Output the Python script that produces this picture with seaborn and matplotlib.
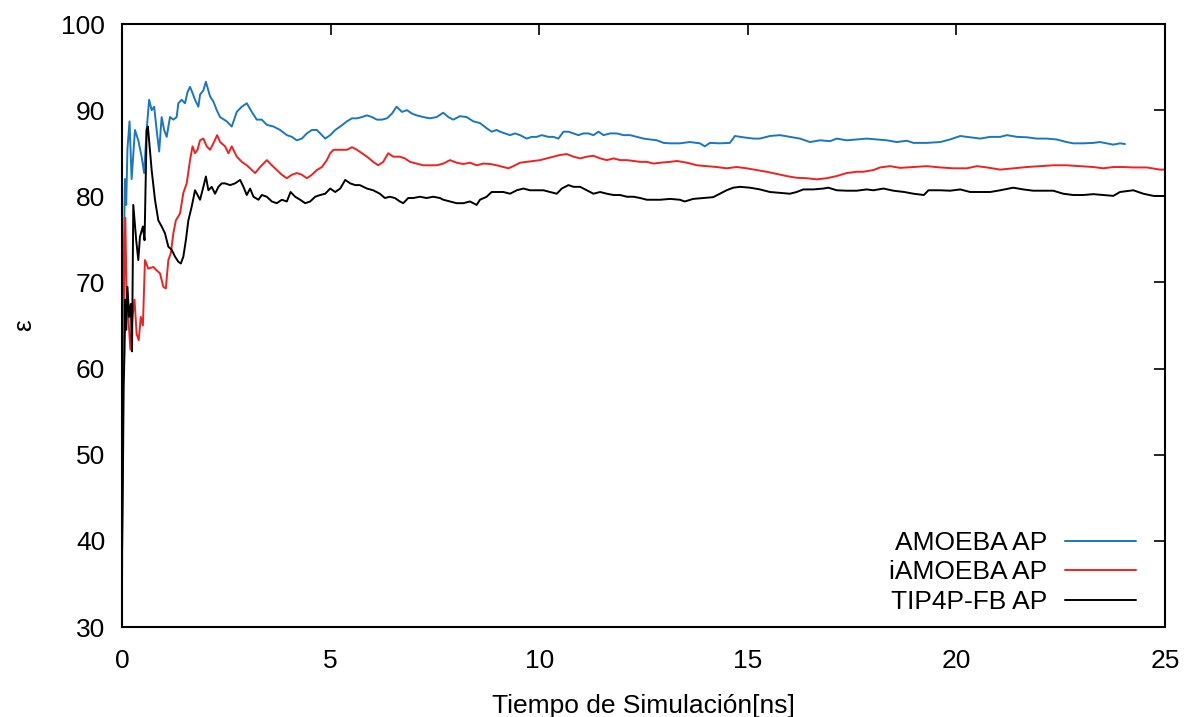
import numpy as np
import pandas as pd
import matplotlib
matplotlib.use("Agg")
import matplotlib.pyplot as plt
import seaborn as sns

# Dielectric constant (epsilon) vs simulation time for three water models
labels = ["AMOEBA AP", "iAMOEBA AP", "TIP4P-FB AP"]
colors = ["#1a77bd", "#ee2222", "#000000"]

t_amoeba = [0.0, 0.02, 0.04, 0.07, 0.10, 0.13, 0.18, 0.23, 0.31, 0.39, 0.47, 0.53, 0.59, 0.65, 0.71, 0.77,
            0.83, 0.89, 0.95, 1.01, 1.07, 1.15, 1.23, 1.31, 1.35, 1.43, 1.51, 1.57, 1.63, 1.69, 1.75, 1.83,
            1.87, 1.95, 2.01, 2.11, 2.19, 2.27, 2.35, 2.51, 2.63, 2.75, 2.87, 2.99, 3.11, 3.23, 3.35, 3.47,
            3.63, 3.79, 3.95, 4.07, 4.19, 4.31, 4.43, 4.55, 4.67, 4.75, 4.87, 4.99, 5.11, 5.23, 5.39, 5.51,
            5.63, 5.75, 5.87, 5.99, 6.11, 6.23, 6.35, 6.47, 6.58, 6.71, 6.83, 6.95, 7.06, 7.22, 7.38, 7.54,
            7.70, 7.82, 7.94, 8.10, 8.26, 8.42, 8.58, 8.74, 8.86, 8.98, 9.06, 9.18, 9.30, 9.42, 9.54, 9.70,
            9.82, 9.94, 10.06, 10.22, 10.34, 10.46, 10.58, 10.70, 10.82, 10.94, 11.06, 11.18, 11.30, 11.42,
            11.54, 11.70, 11.86, 12.02, 12.18, 12.34, 12.50, 12.66, 12.82, 12.98, 13.14, 13.37, 13.61, 13.85,
            13.97, 14.09, 14.33, 14.57, 14.69, 14.89, 15.13, 15.29, 15.53, 15.77, 16.01, 16.25, 16.49, 16.73,
            16.97, 17.13, 17.37, 17.61, 17.85, 18.09, 18.33, 18.57, 18.81, 18.97, 19.29, 19.61, 19.85, 20.09,
            20.33, 20.57, 20.81, 21.05, 21.21, 21.45, 21.69, 21.92, 22.16, 22.40, 22.64, 22.80, 23.04, 23.28,
            23.44, 23.60, 23.76, 23.92, 24.04]
eps_amoeba = [35, 52, 72, 82, 79, 85.5, 88.7, 82.0, 87.7, 86.5, 84.6, 82.7, 87.7, 91.2, 90.0, 90.4,
              87.7, 85.2, 89.2, 87.7, 86.9, 89.2, 88.9, 89.2, 90.8, 91.2, 90.8, 92.1, 92.7, 92.0, 91.2, 90.4,
              91.8, 92.3, 93.3, 91.6, 91.0, 90.0, 89.2, 88.7, 88.1, 89.8, 90.4, 90.8, 89.8, 88.9, 88.9, 88.3,
              88.1, 87.7, 87.1, 86.9, 86.5, 86.7, 87.3, 87.7, 87.7, 87.3, 86.7, 87.1, 87.7, 88.1, 88.7, 89.05,
              89.05, 89.2, 89.4, 89.2, 88.9, 88.9, 89.05, 89.6, 90.4, 89.8, 90.0, 89.6, 89.4, 89.2, 89.05, 89.2,
              89.7, 89.2, 88.9, 89.3, 89.2, 88.7, 88.5, 87.9, 87.5, 87.7, 87.5, 87.3, 87.1, 87.3, 87.1, 86.7,
              86.9, 86.9, 87.1, 86.9, 86.9, 86.7, 87.5, 87.5, 87.3, 87.1, 87.3, 87.3, 87.1, 87.5,
              87.1, 87.3, 87.3, 87.1, 87.1, 86.9, 86.7, 86.6, 86.5, 86.2, 86.15, 86.15, 86.3, 86.15,
              85.8, 86.2, 86.15, 86.2, 87.0, 86.85, 86.7, 86.7, 87.0, 87.1, 86.9, 86.7, 86.3, 86.5,
              86.4, 86.7, 86.5, 86.6, 86.7, 86.6, 86.5, 86.3, 86.45, 86.2, 86.2, 86.3, 86.6, 87.0,
              86.85, 86.7, 86.9, 86.9, 87.1, 86.9, 86.85, 86.7, 86.7, 86.6, 86.3, 86.15, 86.15, 86.2,
              86.3, 86.15, 86.0, 86.15, 86.07]

t_iamoeba = [0.0, 0.02, 0.05, 0.08, 0.11, 0.15, 0.20, 0.25, 0.30, 0.35, 0.40, 0.45, 0.50, 0.55, 0.63, 0.75,
             0.83, 0.91, 0.99, 1.05, 1.11, 1.17, 1.23, 1.29, 1.39, 1.47, 1.55, 1.63, 1.69, 1.75, 1.81, 1.87,
             1.95, 2.03, 2.11, 2.19, 2.28, 2.35, 2.47, 2.55, 2.63, 2.75, 2.87, 2.99, 3.11, 3.19, 3.31, 3.47,
             3.59, 3.71, 3.83, 3.95, 4.07, 4.19, 4.31, 4.43, 4.55, 4.67, 4.79, 4.91, 4.99, 5.07, 5.23, 5.39,
             5.51, 5.63, 5.75, 5.87, 6.02, 6.14, 6.26, 6.38, 6.50, 6.66, 6.78, 6.90, 7.06, 7.22, 7.38, 7.54,
             7.70, 7.86, 8.02, 8.18, 8.34, 8.50, 8.66, 8.82, 8.98, 9.14, 9.26, 9.38, 9.54, 9.70, 9.86, 10.02,
             10.18, 10.34, 10.50, 10.66, 10.82, 10.98, 11.14, 11.30, 11.46, 11.62, 11.78, 11.94, 12.10, 12.26,
             12.42, 12.58, 12.74, 12.90, 13.14, 13.30, 13.54, 13.78, 14.01, 14.25, 14.49, 14.73, 14.97, 15.21,
             15.45, 15.69, 15.93, 16.17, 16.41, 16.65, 16.89, 17.13, 17.37, 17.61, 17.77, 18.01, 18.17, 18.41,
             18.65, 18.97, 19.29, 19.61, 19.93, 20.25, 20.49, 20.73, 21.05, 21.36, 21.69, 22.00, 22.32, 22.64,
             22.96, 23.28, 23.52, 23.76, 24.00, 24.24, 24.56, 24.88, 25.0]
eps_iamoeba = [46, 60, 70, 77.5, 68, 66, 62.2, 66, 68, 64, 63.3, 66, 65, 72.6, 71.6, 71.8,
               71.4, 71.05, 69.5, 69.3, 72.6, 73.4, 75.7, 77.2, 78.0, 80.4, 81.5, 84.2, 85.8, 85.0, 85.4, 86.5,
               86.7, 85.8, 85.4, 86.15, 87.1, 86.3, 85.8, 85.0, 85.8, 84.6, 84.0, 83.6, 83.05, 82.7, 83.4, 84.2,
               83.6, 83.05, 82.5, 82.1, 82.5, 82.7, 82.5, 82.1, 82.5, 83.05, 83.4, 84.2, 85.0, 85.4, 85.4, 85.4,
               85.7, 85.4, 85.0, 84.6, 84.0, 83.6, 84.0, 85.0, 84.6, 84.6, 84.4, 84.0, 83.8, 83.6, 83.6, 83.6,
               83.8, 84.2, 83.9, 83.75, 83.9, 83.6, 83.8, 83.75, 83.6, 83.4, 83.25, 83.5, 83.9, 84.0, 84.1, 84.2,
               84.4, 84.6, 84.8, 84.9, 84.6, 84.4, 84.6, 84.7, 84.4, 84.2, 84.4, 84.2, 84.2, 84.1,
               84.0, 84.0, 83.8, 83.9, 84.0, 84.1, 83.9, 83.6, 83.5, 83.4, 83.25, 83.4, 83.25, 83.05,
               82.85, 82.6, 82.35, 82.15, 82.1, 81.97, 82.1, 82.35, 82.7, 82.85, 82.85, 83.05, 83.35, 83.5,
               83.3, 83.4, 83.5, 83.35, 83.25, 83.25, 83.5, 83.35, 83.1, 83.25, 83.4, 83.5, 83.6, 83.6,
               83.5, 83.4, 83.25, 83.4, 83.4, 83.35, 83.35, 83.1, 83.1]

t_tip4p = [0.0, 0.02, 0.04, 0.06, 0.08, 0.10, 0.13, 0.17, 0.21, 0.24, 0.27, 0.34, 0.39, 0.43, 0.50, 0.54,
           0.59, 0.62, 0.71, 0.79, 0.87, 0.95, 1.03, 1.11, 1.19, 1.27, 1.35, 1.41, 1.47, 1.53, 1.59, 1.67,
           1.75, 1.83, 1.87, 1.95, 2.01, 2.07, 2.15, 2.23, 2.31, 2.39, 2.47, 2.59, 2.71, 2.83, 2.91, 2.99,
           3.07, 3.15, 3.27, 3.35, 3.47, 3.59, 3.71, 3.83, 3.95, 4.04, 4.15, 4.27, 4.39, 4.51, 4.63, 4.75,
           4.87, 4.99, 5.11, 5.23, 5.35, 5.47, 5.59, 5.70, 5.87, 6.02, 6.18, 6.30, 6.42, 6.54, 6.66, 6.74,
           6.86, 6.98, 7.14, 7.30, 7.46, 7.62, 7.70, 7.86, 8.02, 8.18, 8.34, 8.50, 8.58, 8.74, 8.86, 8.98,
           9.14, 9.30, 9.46, 9.62, 9.78, 9.94, 10.10, 10.26, 10.42, 10.54, 10.70, 10.82, 10.98, 11.14,
           11.30, 11.46, 11.62, 11.78, 11.94, 12.10, 12.26, 12.42, 12.58, 12.74, 12.90, 13.14, 13.37, 13.49,
           13.69, 13.93, 14.17, 14.33, 14.49, 14.65, 14.81, 15.05, 15.29, 15.53, 15.77, 16.01, 16.17, 16.33,
           16.57, 16.81, 16.93, 17.13, 17.37, 17.61, 17.85, 18.01, 18.25, 18.49, 18.75, 18.97, 19.22, 19.33,
           19.61, 19.85, 20.09, 20.33, 20.57, 20.81, 21.05, 21.36, 21.60, 21.84, 22.08, 22.32, 22.56, 22.80,
           23.04, 23.28, 23.52, 23.76, 23.92, 24.24, 24.48, 24.72, 25.0]
eps_tip4p = [39, 47, 58, 62, 68, 64.5, 69.5, 66, 67.5, 62, 79, 74.9, 72.6, 75.3, 76.5, 74.9,
             87.7, 88.1, 83.05, 79.6, 77.2, 76.5, 75.7, 74.15, 73.8, 73.0, 72.4, 72.2, 73.0, 74.9, 77.2, 78.8,
             80.7, 79.95, 79.6, 81.1, 82.3, 80.7, 81.1, 80.3, 81.1, 81.5, 81.5, 81.3, 81.5, 81.9, 81.1, 80.15,
             80.9, 79.95, 79.6, 80.15, 79.95, 79.4, 79.2, 79.6, 79.4, 80.5, 79.95, 79.6, 79.2, 79.4, 79.95, 80.15,
             80.3, 80.9, 80.5, 80.9, 81.9, 81.5, 81.3, 81.3, 80.9, 80.7, 80.3, 79.8, 79.95, 79.8, 79.4, 79.2,
             79.8, 79.8, 79.95, 79.8, 79.95, 79.8, 79.6, 79.4, 79.2, 79.2, 79.4, 79.0, 79.6, 79.95, 80.5, 80.5,
             80.5, 80.3, 80.7, 80.9, 80.7, 80.7, 80.7, 80.5, 80.3, 80.9, 81.3, 81.1, 81.1, 80.7,
             80.3, 80.5, 80.3, 80.15, 80.15, 79.95, 79.95, 79.8, 79.6, 79.6, 79.6, 79.7, 79.6, 79.4,
             79.7, 79.8, 79.9, 80.3, 80.7, 81.0, 81.1, 81.0, 80.8, 80.5, 80.4, 80.3, 80.5, 80.8,
             80.8, 80.9, 81.0, 80.7, 80.65, 80.65, 80.8, 80.7, 80.9, 80.65, 80.5, 80.3, 80.15, 80.7,
             80.7, 80.65, 80.8, 80.5, 80.5, 80.5, 80.7, 81.0, 80.8, 80.65, 80.65, 80.65, 80.3, 80.15,
             80.15, 80.25, 80.15, 80.05, 80.5, 80.7, 80.3, 80.05, 80.03]

x_ticks = [0, 5, 10, 15, 20, 25]
y_ticks = [30, 40, 50, 60, 70, 80, 90, 100]

series = [(labels[0], t_amoeba, eps_amoeba),
          (labels[1], t_iamoeba, eps_iamoeba),
          (labels[2], t_tip4p, eps_tip4p)]
df = pd.concat([pd.DataFrame({"t": t, "eps": e, "modelo": name}) for name, t, e in series],
               ignore_index=True)

sns.set_theme(style="white")
plt.rcParams["font.family"] = ["Liberation Sans", "DejaVu Sans"]
plt.rcParams["text.color"] = "black"
plt.rcParams["axes.labelcolor"] = "black"

FS = 19

fig = plt.figure(figsize=(11.87, 7.17), dpi=100)
ax = fig.add_axes([0.1028, 0.1255, 0.8787, 0.841])

sns.lineplot(data=df, x="t", y="eps", hue="modelo", hue_order=labels,
             palette=dict(zip(labels, colors)), estimator=None, sort=False,
             linewidth=1.4, legend=False, ax=ax)

ax.set_xlim(0, 25)
ax.set_ylim(30, 100)
ax.set_xticks(x_ticks)
ax.set_yticks(y_ticks)
ax.tick_params(direction="in", length=8, width=1.2, top=True, right=True,
               labelsize=FS, colors="black")
ax.tick_params(axis="x", pad=16)
ax.tick_params(axis="y", pad=12)
for s in ax.spines.values():
    s.set_visible(True)
    s.set_color("black")
    s.set_linewidth(1.5)

ax.set_xlabel("Tiempo de Simulación[ns]", fontsize=FS, labelpad=15)
ax.set_ylabel("ε", fontsize=FS, labelpad=18)

leg = ax.legend(ax.lines, labels, loc="lower right", bbox_to_anchor=(0.972, 0.022),
                markerfirst=False, frameon=False, fontsize=FS, handlelength=2.7,
                handletextpad=0.65, labelspacing=0.2, borderaxespad=0, borderpad=0)
for txt in leg.get_texts():
    txt.set_color("black")

fig.savefig("out.png", dpi=100, facecolor="white")
